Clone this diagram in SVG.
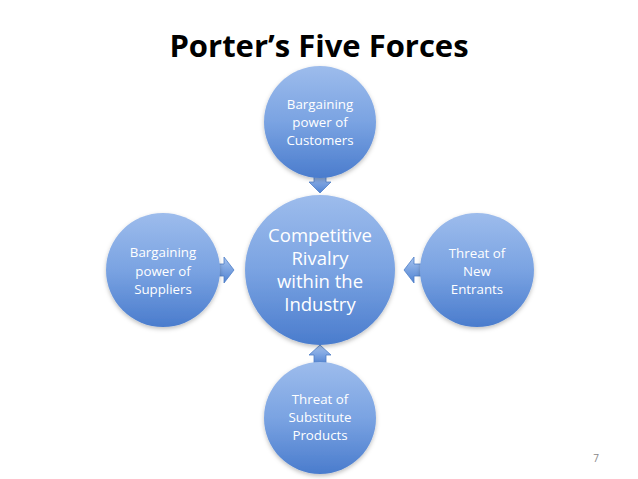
<svg xmlns="http://www.w3.org/2000/svg" width="638" height="479" viewBox="0 0 638 479">
<defs>
<linearGradient id="g" x1="0" y1="0" x2="0" y2="1">
<stop offset="0" stop-color="#9dbcec"/>
<stop offset="0.5" stop-color="#7aa3e2"/>
<stop offset="1" stop-color="#4a7ccd"/>
</linearGradient>
<linearGradient id="ga" x1="0" y1="0" x2="0" y2="1">
<stop offset="0" stop-color="#a6c3ef"/>
<stop offset="1" stop-color="#4f82d2"/>
</linearGradient>
<filter id="sh" x="-20%" y="-20%" width="140%" height="140%">
<feDropShadow dx="0" dy="2" stdDeviation="2" flood-color="#000" flood-opacity="0.25"/>
</filter>
</defs>
<style>
.c{fill:url(#g);filter:url(#sh)}
.a{fill:url(#ga);stroke:#4f7fc6;stroke-width:0.8}
.t{fill:#fff;font-family:"Open Sans","Liberation Sans",sans-serif;text-anchor:middle}
.s{font-size:13.3px}
.m{font-size:18.5px}
</style>
<rect width="638" height="479" fill="#fff"/>
<text x="319" y="57" font-family="'Open Sans','Liberation Sans',sans-serif" font-weight="bold" font-size="31" text-anchor="middle" fill="#000">Porter’s Five Forces</text>
<g id="connectors">
<path class="a" d="M314,173 H326 V182 H331 L320,193 L309,182 H314 Z"/>
<path class="a" d="M216,264 H224 V257 L234,270 L224,283 V276 H216 Z"/>
<path class="a" d="M424,264 H414 V257 L404,270 L414,283 V276 H424 Z"/>
<path class="a" d="M314,365 H326 V355 H331 L320,345 L309,355 H314 Z"/>
</g>
<g id="center">
<circle class="c" cx="320" cy="270" r="75"/>
<text class="t m" x="320" y="242">Competitive</text>
<text class="t m" x="320" y="265">Rivalry</text>
<text class="t m" x="320" y="288">within the</text>
<text class="t m" x="320" y="311">Industry</text>
</g>
<g id="customers">
<circle class="c" cx="320" cy="122" r="56"/>
<text class="t s" x="320" y="109">Bargaining</text>
<text class="t s" x="320" y="127">power of</text>
<text class="t s" x="320" y="145">Customers</text>
</g>
<g id="suppliers">
<circle class="c" cx="163" cy="270" r="57"/>
<text class="t s" x="163" y="257">Bargaining</text>
<text class="t s" x="163" y="276">power of</text>
<text class="t s" x="163" y="294">Suppliers</text>
</g>
<g id="entrants">
<circle class="c" cx="477" cy="270" r="57"/>
<text class="t s" x="477" y="258">Threat of</text>
<text class="t s" x="477" y="276">New</text>
<text class="t s" x="477" y="294">Entrants</text>
</g>
<g id="substitutes">
<circle class="c" cx="320" cy="418" r="56"/>
<text class="t s" x="320" y="404">Threat of</text>
<text class="t s" x="320" y="422">Substitute</text>
<text class="t s" x="320" y="440">Products</text>
</g>
<text x="596" y="462" font-family="'Open Sans','Liberation Sans',sans-serif" font-size="10" text-anchor="middle" fill="#888">7</text>
</svg>
